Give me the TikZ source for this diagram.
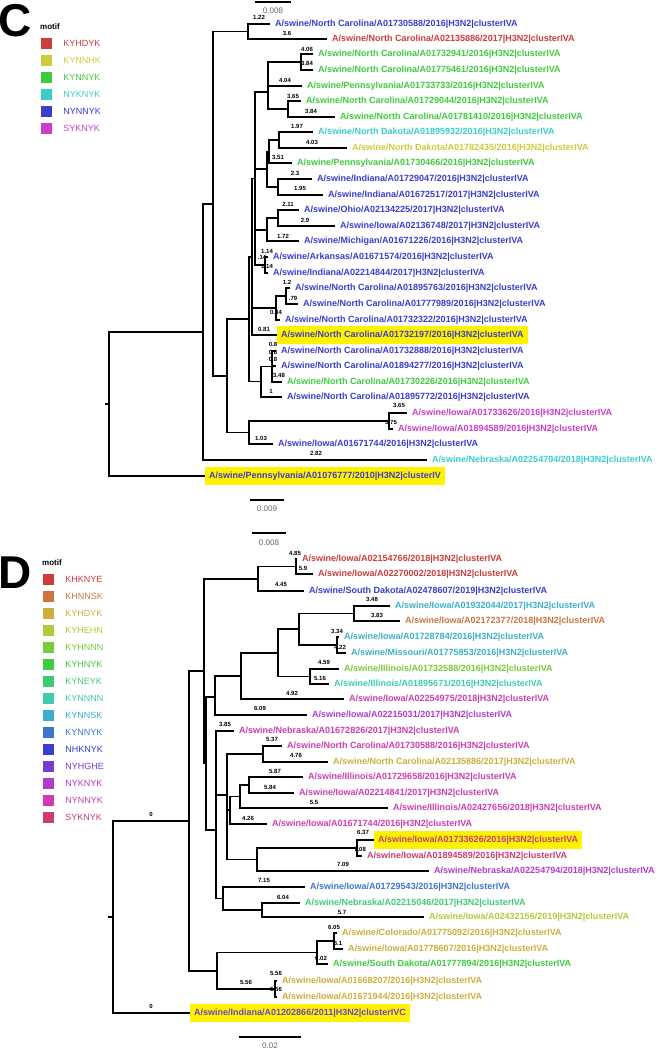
\documentclass[tikz,border=0pt]{standalone}
\usepackage{fontspec}
\setmainfont{Liberation Sans}
\usetikzlibrary{positioning}

\definecolor{cKYHDYK}{RGB}{204,61,61}
\definecolor{cKYNNHK}{RGB}{204,204,61}
\definecolor{cKYNNYK}{RGB}{61,204,61}
\definecolor{cNYKNYK}{RGB}{61,204,204}
\definecolor{cNYNNYK}{RGB}{61,61,204}
\definecolor{cSYKNYK}{RGB}{204,61,204}
\definecolor{dKHKNYE}{RGB}{204,61,61}
\definecolor{dKHNNSK}{RGB}{204,118,61}
\definecolor{dKYHDYK}{RGB}{204,175,61}
\definecolor{dKYHEHN}{RGB}{175,204,61}
\definecolor{dKYHNNN}{RGB}{118,204,61}
\definecolor{dKYHNYK}{RGB}{61,204,61}
\definecolor{dKYNEYK}{RGB}{61,204,118}
\definecolor{dKYNNNN}{RGB}{61,204,175}
\definecolor{dKYNNSK}{RGB}{61,175,204}
\definecolor{dKYNNYK}{RGB}{61,118,204}
\definecolor{dNHKNYK}{RGB}{61,61,204}
\definecolor{dNYHGHE}{RGB}{118,61,204}
\definecolor{dNYKNYK}{RGB}{175,61,204}
\definecolor{dNYNNYK}{RGB}{204,61,175}
\definecolor{dSYKNYK}{RGB}{204,61,118}

\tikzset{
  brC/.style={line width=1.2pt},
  brD/.style={line width=1.9pt},
  leaf/.style={anchor=west, inner xsep=5pt, inner ysep=0pt, text=#1,
    font=\fontsize{9}{10}\selectfont\bfseries},
  leafhi/.style={leaf=#1, fill=yellow, inner xsep=4pt, inner ysep=4.5pt},
  blab/.style={inner sep=0pt, font=\fontsize{6}{7}\selectfont\bfseries},
  swatch/.style={fill=#1, minimum size=11pt, inner sep=0pt},
  mlab/.style={text=#1, inner sep=0pt, font=\fontsize{9}{10}\selectfont},
  mhead/.style={inner sep=0pt, anchor=west, font=\fontsize{8}{9}\selectfont\bfseries},
  sbar/.style={line width=1.4pt},
  slab/.style={inner sep=0pt, text=black!60, font=\fontsize{8}{9}\selectfont},
  panel/.style={inner sep=0pt, anchor=west, font=\fontsize{46}{46}\selectfont\bfseries}
}

\begin{document}
\begin{tikzpicture}[x=1pt,y=-1pt]
\fill[white] (0,0) rectangle (657,1050);
\useasboundingbox (0,0) rectangle (657,1050);

% legend C
\node[panel] (labC) at (-2,21) {C};
\node[mhead] (motifC) at (40,27) {motif};
\foreach \m [count=\i] in {KYHDYK,KYNNHK,KYNNYK,NYKNYK,NYNNYK,SYKNYK} {
  \node[swatch=c\m] (sqc\i) at (46.5,26+17*\i) {};
  \node[mlab=c\m, right=11pt of sqc\i] (mc\i) {\m};
}

% legend D
\node[panel] (labD) at (-2,573) {D};
\node[mhead] (motifD) at (42,563) {motif};
\foreach \m [count=\i] in {KHKNYE,KHNNSK,KYHDYK,KYHEHN,KYHNNN,KYHNYK,KYNEYK,KYNNNN,KYNNSK,KYNNYK,NHKNYK,NYHGHE,NYKNYK,NYNNYK,SYKNYK} {
  \node[swatch=d\m] (sqd\i) at (48.5,562+17*\i) {};
  \node[mlab=d\m, right=11pt of sqd\i] (md\i) {\m};
}

% tree C
\node[leaf=cNYNNYK] (c1) at (270,24) {A/swine/North Carolina/A01730588/2016|H3N2|clusterIVA};
\node[leaf=cKYHDYK] (c2) at (327,39) {A/swine/North Carolina/A02135886/2017|H3N2|clusterIVA};
\node[leaf=cKYNNYK] (c3) at (313,54) {A/swine/North Carolina/A01732941/2016|H3N2|clusterIVA};
\node[leaf=cKYNNYK] (c4) at (313,70) {A/swine/North Carolina/A01775461/2016|H3N2|clusterIVA};
\node[leaf=cKYNNYK] (c5) at (302,86) {A/swine/Pennsylvania/A01733733/2016|H3N2|clusterIVA};
\node[leaf=cKYNNYK] (c6) at (301,101) {A/swine/North Carolina/A01729044/2016|H3N2|clusterIVA};
\node[leaf=cKYNNYK] (c7) at (335,117) {A/swine/North Carolina/A01781410/2016|H3N2|clusterIVA};
\node[leaf=cNYKNYK] (c8) at (313,132) {A/swine/North Dakota/A01895932/2016|H3N2|clusterIVA};
\node[leaf=cKYNNHK] (c9) at (347,148) {A/swine/North Dakota/A01782435/2016|H3N2|clusterIVA};
\node[leaf=cKYNNYK] (c10) at (292,163) {A/swine/Pennsylvania/A01730466/2016|H3N2|clusterIVA};
\node[leaf=cNYNNYK] (c11) at (312,179) {A/swine/Indiana/A01729047/2016|H3N2|clusterIVA};
\node[leaf=cNYNNYK] (c12) at (323,195) {A/swine/Indiana/A01672517/2017|H3N2|clusterIVA};
\node[leaf=cNYNNYK] (c13) at (299,210) {A/swine/Ohio/A02134225/2017|H3N2|clusterIVA};
\node[leaf=cNYNNYK] (c14) at (335,226) {A/swine/Iowa/A02136748/2017|H3N2|clusterIVA};
\node[leaf=cNYNNYK] (c15) at (299,241) {A/swine/Michigan/A01671226/2016|H3N2|clusterIVA};
\node[leaf=cNYNNYK] (c16) at (268,257) {A/swine/Arkansas/A01671574/2016|H3N2|clusterIVA};
\node[leaf=cNYNNYK] (c17) at (268,273) {A/swine/Indiana/A02214844/2017|H3N2|clusterIVA};
\node[leaf=cNYNNYK] (c18) at (290,288) {A/swine/North Carolina/A01895763/2016|H3N2|clusterIVA};
\node[leaf=cNYNNYK] (c19) at (298,304) {A/swine/North Carolina/A01777989/2016|H3N2|clusterIVA};
\node[leaf=cNYNNYK] (c20) at (280,320) {A/swine/North Carolina/A01732322/2016|H3N2|clusterIVA};
\node[leafhi=cNYNNYK] (c21) at (277,335) {A/swine/North Carolina/A01732197/2016|H3N2|clusterIVA};
\node[leaf=cNYNNYK] (c22) at (276,351) {A/swine/North Carolina/A01732888/2016|H3N2|clusterIVA};
\node[leaf=cNYNNYK] (c23) at (276,366) {A/swine/North Carolina/A01894277/2016|H3N2|clusterIVA};
\node[leaf=cKYNNYK] (c24) at (282,382) {A/swine/North Carolina/A01730226/2016|H3N2|clusterIVA};
\node[leaf=cNYNNYK] (c25) at (282,397) {A/swine/North Carolina/A01895772/2016|H3N2|clusterIVA};
\node[leaf=cSYKNYK] (c26) at (407,413) {A/swine/Iowa/A01733626/2016|H3N2|clusterIVA};
\node[leaf=cSYKNYK] (c27) at (393,429) {A/swine/Iowa/A01894589/2016|H3N2|clusterIVA};
\node[leaf=cNYNNYK] (c28) at (273,444) {A/swine/Iowa/A01671744/2016|H3N2|clusterIVA};
\node[leaf=cNYKNYK] (c29) at (427,460) {A/swine/Nebraska/A02254794/2018|H3N2|clusterIVA};
\node[leafhi=cNYNNYK] (c30) at (205,476) {A/swine/Pennsylvania/A01076777/2010|H3N2|clusterIV};

\coordinate (rCt) at (105,404);
\coordinate (rC) at (109,404);
\coordinate (k19) at (203,332);
\coordinate (k0) at (213,204);
\coordinate (k1) at (248,31.5);
\coordinate (k18) at (227,376);
\coordinate (s3) at (249,319);
\coordinate (s2) at (252,257);
\coordinate (s1) at (255,178.5);
\coordinate (k2) at (268,92);
\coordinate (k3) at (301,62);
\coordinate (k4) at (288,109);
\coordinate (k8) at (267,169);
\coordinate (k5) at (269,151.5);
\coordinate (k6) at (279,140);
\coordinate (k7) at (278,187);
\coordinate (k10) at (267,230);
\coordinate (k9) at (278,218);
\coordinate (k11) at (265,265);
\coordinate (k13) at (276,308);
\coordinate (k12) at (286,296);
\coordinate (k15) at (261,381.5);
\coordinate (k14) at (272,366.5);
\coordinate (k17) at (249,432.5);
\coordinate (k16) at (389,421);

\draw[brC] (rCt) -- (rC);
\draw[brC] (rC) |- (k19);
\draw[brC] (rC) |- (c30.west);
\draw[brC] (k19) |- (k0);
\draw[brC] (k19) |- (c29.west);
\draw[brC] (k0) |- (k1);
\draw[brC] (k0) |- (k18);
\draw[brC] (k1) |- (c1.west);
\draw[brC] (k1) |- (c2.west);
\draw[brC] (k18) |- (s3);
\draw[brC] (k18) |- (k17);
\draw[brC] (s3) |- (s2);
\draw[brC] (s3) |- (k15);
\draw[brC] (s2) |- (s1);
\draw[brC] (s2) |- (k13);
\draw[brC] (s2) |- (c21.west);
\draw[brC] (s1) |- (k2);
\draw[brC] (s1) |- (k8);
\draw[brC] (s1) |- (k10);
\draw[brC] (s1) |- (k11);
\draw[brC] (k2) |- (k3);
\draw[brC] (k2) |- (c5.west);
\draw[brC] (k2) |- (k4);
\draw[brC] (k3) |- (c3.west);
\draw[brC] (k3) |- (c4.west);
\draw[brC] (k4) |- (c6.west);
\draw[brC] (k4) |- (c7.west);
\draw[brC] (k8) |- (k5);
\draw[brC] (k8) |- (k7);
\draw[brC] (k5) |- (k6);
\draw[brC] (k5) |- (c10.west);
\draw[brC] (k6) |- (c8.west);
\draw[brC] (k6) |- (c9.west);
\draw[brC] (k7) |- (c11.west);
\draw[brC] (k7) |- (c12.west);
\draw[brC] (k10) |- (k9);
\draw[brC] (k10) |- (c15.west);
\draw[brC] (k9) |- (c13.west);
\draw[brC] (k9) |- (c14.west);
\draw[brC] (k11) |- (c16.west);
\draw[brC] (k11) |- (c17.west);
\draw[brC] (k13) |- (k12);
\draw[brC] (k13) |- (c20.west);
\draw[brC] (k12) |- (c18.west);
\draw[brC] (k12) |- (c19.west);
\draw[brC] (k15) |- (k14);
\draw[brC] (k15) |- (c25.west);
\draw[brC] (k14) |- (c22.west);
\draw[brC] (k14) |- (c23.west);
\draw[brC] (k14) |- (c24.west);
\draw[brC] (k17) |- (k16);
\draw[brC] (k17) |- (c28.west);
\draw[brC] (k16) |- (c26.west);
\draw[brC] (k16) |- (c27.west);

\foreach \x/\y/\t [count=\i] in {259/17/1.22, 287/33/3.6, 307/49/4.06, 307/63/3.84,
  285/80/4.04, 293/96/3.65, 311/111/3.84, 297/126/1.97, 312/142/4.03, 278/157/3.51,
  295/173/2.3, 300/188/1.95, 288/204/2.11, 305/220/2.9, 283/236/1.72, 267/251/1.14,
  262/257/.14, 267/266/1.14, 287/282/1.2, 293/298/.79, 276/312/0.84, 264/329/0.81,
  273/344/0.8, 273/352/0.8, 273/359/0.8, 279/375/3.48, 271/391/1, 399/405/3.65,
  391/422/3.75, 261/438/1.03, 316/453/2.82}
  \node[blab] (lc\i) at (\x,\y) {\t};

\coordinate (sbC1a) at (255,2);
\coordinate (sbC1b) at (291,2);
\draw[sbar] (sbC1a) -- (sbC1b);
\node[slab] (sbC1) at (273,11) {0.008};
\coordinate (sbC2a) at (250,500);
\coordinate (sbC2b) at (284,500);
\draw[sbar] (sbC2a) -- (sbC2b);
\node[slab] (sbC2) at (267,509) {0.009};

% tree D
\node[leaf=dKHKNYE] (d1) at (297,559) {A/swine/Iowa/A02154766/2018|H3N2|clusterIVA};
\node[leaf=dKHKNYE] (d2) at (313,574) {A/swine/Iowa/A02270002/2018|H3N2|clusterIVA};
\node[leaf=dNHKNYK] (d3) at (304,591) {A/swine/South Dakota/A02478607/2019|H3N2|clusterIVA};
\node[leaf=dKYNNSK] (d4) at (390,606) {A/swine/Iowa/A01932044/2017|H3N2|clusterIVA};
\node[leaf=dKHNNSK] (d5) at (400,621) {A/swine/Iowa/A02172377/2018|H3N2|clusterIVA};
\node[leaf=dKYNNSK] (d6) at (339,637) {A/swine/Iowa/A01728784/2016|H3N2|clusterIVA};
\node[leaf=dKYNNSK] (d7) at (346,653) {A/swine/Missouri/A01775853/2016|H3N2|clusterIVA};
\node[leaf=dKYHNNN] (d8) at (339,669) {A/swine/Illinois/A01732588/2016|H3N2|clusterIVA};
\node[leaf=dKYNNNN] (d9) at (329,684) {A/swine/Illinois/A01895671/2016|H3N2|clusterIVA};
\node[leaf=dNYNNYK] (d10) at (344,699) {A/swine/Iowa/A02254975/2018|H3N2|clusterIVA};
\node[leaf=dNYKNYK] (d11) at (307,715) {A/swine/Iowa/A02215031/2017|H3N2|clusterIVA};
\node[leaf=dNYNNYK] (d12) at (234,731) {A/swine/Nebraska/A01672826/2017|H3N2|clusterIVA};
\node[leaf=dNYNNYK] (d13) at (282,746) {A/swine/North Carolina/A01730588/2016|H3N2|clusterIVA};
\node[leaf=dKYHDYK] (d14) at (328,762) {A/swine/North Carolina/A02135886/2017|H3N2|clusterIVA};
\node[leaf=dNYNNYK] (d15) at (303,777) {A/swine/Illinois/A01729658/2016|H3N2|clusterIVA};
\node[leaf=dNYNNYK] (d16) at (294,793) {A/swine/Iowa/A02214841/2017|H3N2|clusterIVA};
\node[leaf=dNYNNYK] (d17) at (388,808) {A/swine/Illinois/A02427656/2018|H3N2|clusterIVA};
\node[leaf=dNYNNYK] (d18) at (267,824) {A/swine/Iowa/A01671744/2016|H3N2|clusterIVA};
\node[leafhi=dSYKNYK] (d19) at (374,840) {A/swine/Iowa/A01733626/2016|H3N2|clusterIVA};
\node[leaf=dSYKNYK] (d20) at (362,856) {A/swine/Iowa/A01894589/2016|H3N2|clusterIVA};
\node[leaf=dNYKNYK] (d21) at (429,871) {A/swine/Nebraska/A02254794/2018|H3N2|clusterIVA};
\node[leaf=dKYNNYK] (d22) at (305,887) {A/swine/Iowa/A01729543/2016|H3N2|clusterIVA};
\node[leaf=dKYNEYK] (d23) at (300,903) {A/swine/Nebraska/A02215046/2017|H3N2|clusterIVA};
\node[leaf=dKYHEHN] (d24) at (424,917) {A/swine/Iowa/A02432156/2019|H3N2|clusterIVA};
\node[leaf=dKYHDYK] (d25) at (337,933) {A/swine/Colorado/A01775092/2016|H3N2|clusterIVA};
\node[leaf=dKYHDYK] (d26) at (343,949) {A/swine/Iowa/A01778607/2016|H3N2|clusterIVA};
\node[leaf=dKYHNYK] (d27) at (328,964) {A/swine/South Dakota/A01777894/2016|H3N2|clusterIVA};
\node[leaf=dKYHDYK] (d28) at (277,981) {A/swine/Iowa/A01668207/2016|H3N2|clusterIVA};
\node[leaf=dKYHDYK] (d29) at (277,997) {A/swine/Iowa/A01671944/2016|H3N2|clusterIVA};
\node[leafhi=dNYHGHE] (d30) at (190,1013) {A/swine/Indiana/A01202866/2011|H3N2|clusterIVC};

\coordinate (rDt) at (108,917);
\coordinate (rD) at (113,917);
\coordinate (m26) at (189,821);
\coordinate (m21) at (204,671);
\coordinate (m2) at (258,579);
\coordinate (m1) at (296,566.5);
\coordinate (m20) at (206,763.5);
\coordinate (m9) at (215,697);
\coordinate (m8) at (241,676);
\coordinate (m7) at (278,653);
\coordinate (m5) at (299,629);
\coordinate (m3) at (354,613.5);
\coordinate (m4) at (337,645);
\coordinate (m6) at (310,676.5);
\coordinate (m19) at (216,830);
\coordinate (m16) at (227,795);
\coordinate (m10) at (263,754);
\coordinate (m15) at (230,810);
\coordinate (m12) at (240,796.5);
\coordinate (m11) at (249,785);
\coordinate (m14) at (257,859.5);
\coordinate (m13) at (357,848);
\coordinate (m18) at (223,898.5);
\coordinate (m17) at (262,910);
\coordinate (m25) at (217,971);
\coordinate (m23) at (317,952.5);
\coordinate (m22) at (334,941);
\coordinate (m24) at (275,989);

\draw[brD] (rDt) -- (rD);
\draw[brD] (rD) |- (m26);
\draw[brD] (rD) |- (d30.west);
\draw[brD] (m26) |- (m21);
\draw[brD] (m26) |- (m25);
\draw[brD] (m21) |- (m2);
\draw[brD] (m21) |- (m20);
\draw[brD] (m2) |- (m1);
\draw[brD] (m2) |- (d3.west);
\draw[brD] (m1) |- (d1.west);
\draw[brD] (m1) |- (d2.west);
\draw[brD] (m20) |- (m9);
\draw[brD] (m20) |- (m19);
\draw[brD] (m9) |- (m8);
\draw[brD] (m9) |- (d11.west);
\draw[brD] (m8) |- (m7);
\draw[brD] (m8) |- (d10.west);
\draw[brD] (m7) |- (m5);
\draw[brD] (m7) |- (m6);
\draw[brD] (m5) |- (m3);
\draw[brD] (m5) |- (m4);
\draw[brD] (m3) |- (d4.west);
\draw[brD] (m3) |- (d5.west);
\draw[brD] (m4) |- (d6.west);
\draw[brD] (m4) |- (d7.west);
\draw[brD] (m6) |- (d8.west);
\draw[brD] (m6) |- (d9.west);
\draw[brD] (m19) |- (d12.west);
\draw[brD] (m19) |- (m16);
\draw[brD] (m19) |- (m18);
\draw[brD] (m16) |- (m10);
\draw[brD] (m16) |- (m15);
\draw[brD] (m16) |- (m14);
\draw[brD] (m10) |- (d13.west);
\draw[brD] (m10) |- (d14.west);
\draw[brD] (m15) |- (m12);
\draw[brD] (m15) |- (d18.west);
\draw[brD] (m12) |- (m11);
\draw[brD] (m12) |- (d17.west);
\draw[brD] (m11) |- (d15.west);
\draw[brD] (m11) |- (d16.west);
\draw[brD] (m14) |- (m13);
\draw[brD] (m14) |- (d21.west);
\draw[brD] (m13) |- (d19.west);
\draw[brD] (m13) |- (d20.west);
\draw[brD] (m18) |- (d22.west);
\draw[brD] (m18) |- (m17);
\draw[brD] (m17) |- (d23.west);
\draw[brD] (m17) |- (d24.west);
\draw[brD] (m25) |- (m23);
\draw[brD] (m25) |- (m24);
\draw[brD] (m23) |- (m22);
\draw[brD] (m23) |- (d27.west);
\draw[brD] (m22) |- (d25.west);
\draw[brD] (m22) |- (d26.west);
\draw[brD] (m24) |- (d28.west);
\draw[brD] (m24) |- (d29.west);

\foreach \x/\y/\t [count=\i] in {295/553/4.85, 303/568/5.9, 281/584/4.45, 372/599/3.48,
  377/615/3.83, 337/631/3.34, 340/647/4.22, 324/662/4.59, 320/678/5.16, 292/693/4.92,
  260/708/6.09, 225/724/3.85, 272/739/5.37, 296/755/4.76, 275/771/5.87, 270/787/5.84,
  314/802/5.5, 248/818/4.26, 363/832/6.37, 360/849/7.08, 343/864/7.09, 264/880/7.15,
  283/897/6.04, 342/912/5.7, 334/927/6.05, 338/943/6.1, 321/958/6.02, 276/973/5.56,
  246/982/5.56, 276/989/5.56, 151/814/0, 151/1006/0}
  \node[blab] (ld\i) at (\x,\y) {\t};

\coordinate (sbD1a) at (252,533);
\coordinate (sbD1b) at (286,533);
\draw[sbar] (sbD1a) -- (sbD1b);
\node[slab] (sbD1) at (269,543) {0.008};
\coordinate (sbD2a) at (239,1037);
\coordinate (sbD2b) at (301,1037);
\draw[sbar] (sbD2a) -- (sbD2b);
\node[slab] (sbD2) at (270,1046) {0.02};
\end{tikzpicture}
\end{document}
